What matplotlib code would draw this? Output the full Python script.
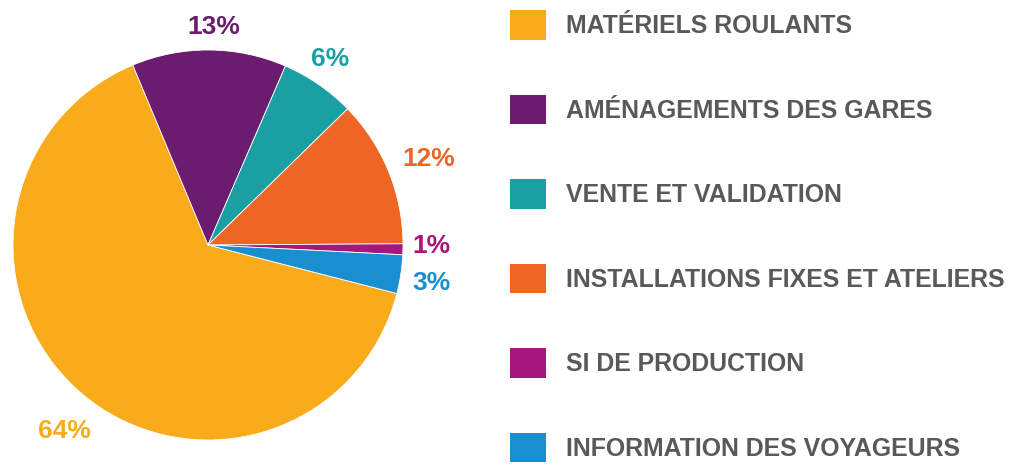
import numpy as np
import matplotlib
matplotlib.use("Agg")
import matplotlib.pyplot as plt
from matplotlib.patches import Patch

categories = ["MATÉRIELS ROULANTS", "AMÉNAGEMENTS DES GARES", "VENTE ET VALIDATION",
              "INSTALLATIONS FIXES ET ATELIERS", "SI DE PRODUCTION", "INFORMATION DES VOYAGEURS"]
values = [64.7, 12.8, 6.2, 12.2, 0.9, 3.2]
pct_labels = ["64%", "13%", "6%", "12%", "1%", "3%"]
colors = ["#F9AB1C", "#6B1C6E", "#1AA0A3", "#EE6623", "#A6177E", "#1A8FD0"]

# label placement (style): radial distance and angular nudge in degrees
label_dist = [1.206, 1.116, 1.141, 1.216, 1.144, 1.165]
label_nudge = [3.2, -1.3, 1.3, -1.0, 1.0, -1.0]

plt.rcParams['font.family'] = ['Liberation Sans', 'DejaVu Sans']

fig = plt.figure(figsize=(10.22, 4.66), dpi=100)
W, H = 1022, 466
cx, cy, r = 208, 245, 195
ax = fig.add_axes([(cx - r) / W, (H - cy - r) / H, 2 * r / W, 2 * r / H])

wedges, _ = ax.pie(values, colors=colors, startangle=-14.4, counterclock=False,
                   wedgeprops=dict(edgecolor="white", linewidth=0.6))
ax.set_xlim(-1, 1)
ax.set_ylim(-1, 1)
ax.set_aspect("equal")

for w, lab, col, d, nd in zip(wedges, pct_labels, colors, label_dist, label_nudge):
    mid = np.deg2rad((w.theta1 + w.theta2) / 2 + nd)
    ax.text(d * np.cos(mid), d * np.sin(mid), lab, color=col, fontsize=19,
            fontweight="bold", ha="center", va="center", clip_on=False)

fs = 17.9
hsz = 36 / (fs * 100 / 72)
handles = [Patch(facecolor=c, edgecolor="none") for c in colors]
leg = fig.legend(handles, categories, loc="upper left", bbox_to_anchor=(503 / W, 1.0 - 3 / H),
                 frameon=False, fontsize=fs, handlelength=hsz, handleheight=hsz,
                 handletextpad=0.8, labelspacing=2.21, borderaxespad=0, borderpad=0.3,
                 labelcolor="#58595B")
for t in leg.get_texts():
    t.set_fontweight("bold")

fig.savefig("out.png", dpi=100)
